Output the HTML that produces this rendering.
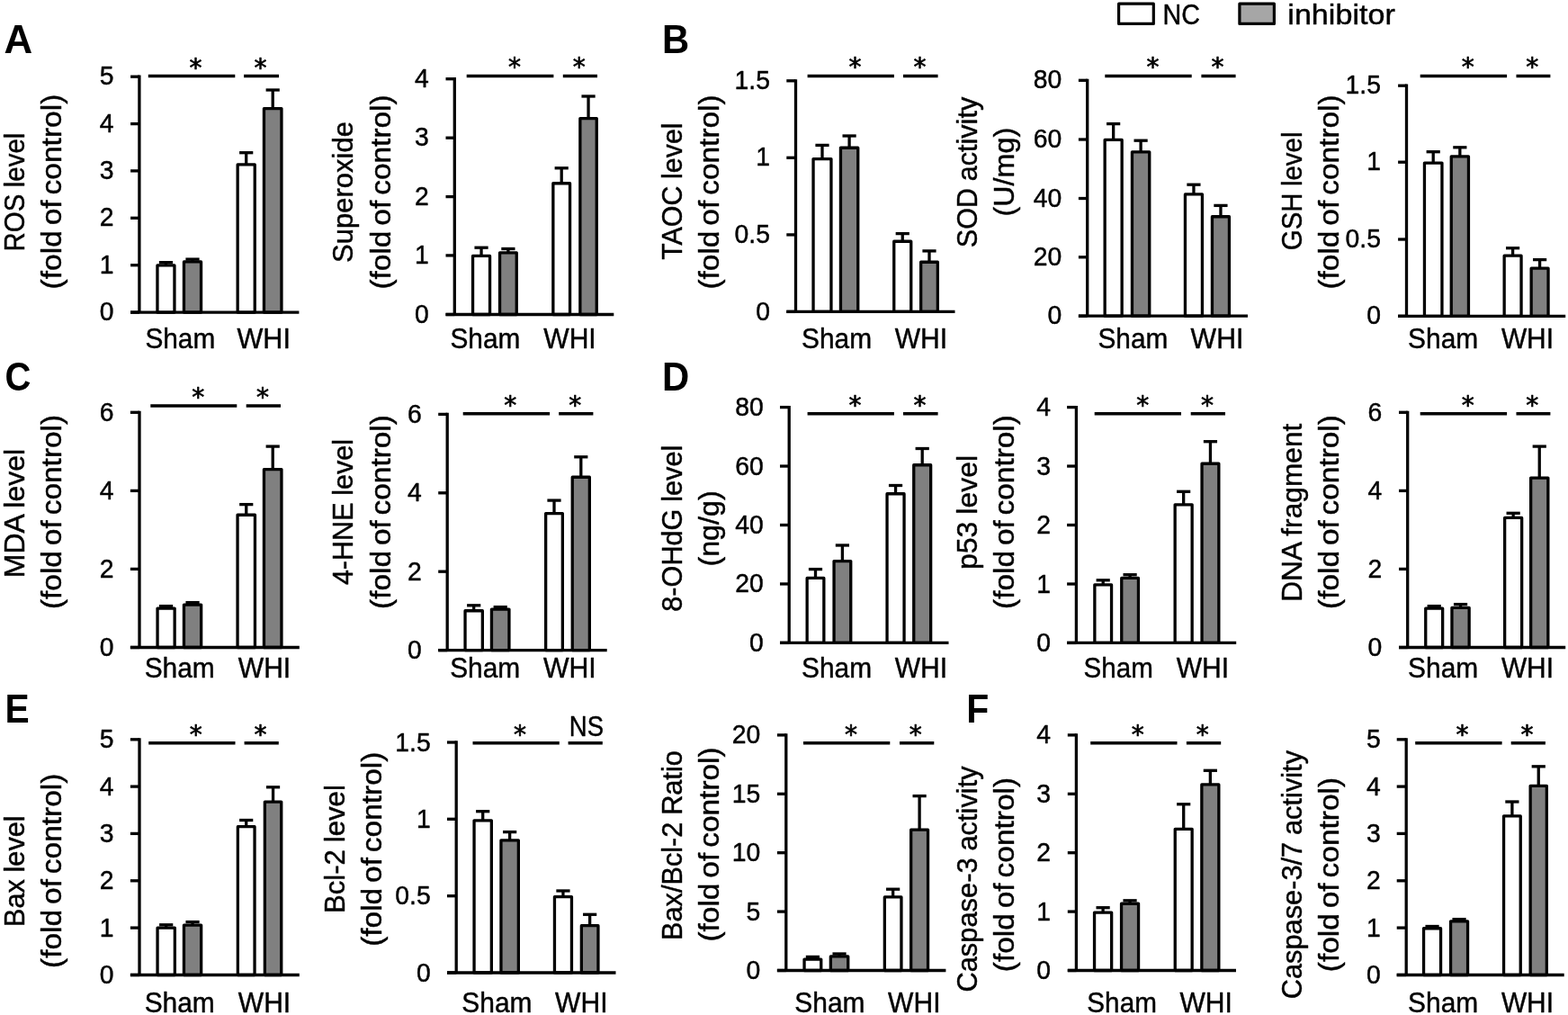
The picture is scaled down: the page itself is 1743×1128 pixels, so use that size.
<!DOCTYPE html>
<html lang="en"><head><meta charset="utf-8"><title>Figure</title>
<style>html,body{margin:0;padding:0;background:#fff}svg{display:block}text{font-family:"Liberation Sans",sans-serif;fill:#000;stroke:#000;stroke-width:.45px;stroke-linejoin:round}.b{stroke-width:0}.a{font-family:"DejaVu Sans",sans-serif;stroke-width:.7px}.c path,.c rect{stroke:#000;stroke-linecap:butt;stroke-linejoin:round}</style></head><body>
<svg width="1743" height="1128" viewBox="0 0 1743 1128">
<rect width="1743" height="1128" fill="#fff"/>
<g class="c">
<path d="M184.45 291.65L184.45 294.30" stroke-width="3.3"/>
<path d="M176.85 291.65L192.05 291.65" stroke-width="3.3"/>
<rect x="174.95" y="294.95" width="19.00" height="52.15" fill="#fff" stroke-width="3.3"/>
<path d="M214.00 288.10L214.00 290.30" stroke-width="3.3"/>
<path d="M206.40 288.10L221.60 288.10" stroke-width="3.3"/>
<rect x="204.45" y="290.95" width="19.10" height="56.15" fill="#808080" stroke-width="3.3"/>
<path d="M273.70 169.70L273.70 182.30" stroke-width="3.3"/>
<path d="M266.10 169.70L281.30 169.70" stroke-width="3.3"/>
<rect x="264.15" y="182.95" width="19.10" height="164.15" fill="#fff" stroke-width="3.3"/>
<path d="M303.20 100.00L303.20 119.90" stroke-width="3.3"/>
<path d="M295.60 100.00L310.80 100.00" stroke-width="3.3"/>
<rect x="293.45" y="120.55" width="19.50" height="226.55" fill="#808080" stroke-width="3.3"/>
<path d="M154.90 83.55L154.90 347.10" stroke-width="3.3"/>
<path d="M145.10 347.10L332.40 347.10" stroke-width="3.3"/>
<path d="M145.10 347.10L154.90 347.10" stroke-width="3.3"/>
<path d="M145.10 294.70L154.90 294.70" stroke-width="3.3"/>
<path d="M145.10 242.30L154.90 242.30" stroke-width="3.3"/>
<path d="M145.10 189.90L154.90 189.90" stroke-width="3.3"/>
<path d="M145.10 137.60L154.90 137.60" stroke-width="3.3"/>
<path d="M145.10 85.20L154.90 85.20" stroke-width="3.3"/>
<path d="M164.80 84.50L261.30 84.50" stroke-width="3.5"/>
<path d="M271.10 84.50L310.00 84.50" stroke-width="3.5"/>
</g>
<text transform="translate(126.40,356.20) scale(0.98,1)" font-size="28.9" text-anchor="end">0</text>
<text transform="translate(126.40,303.80) scale(0.98,1)" font-size="28.9" text-anchor="end">1</text>
<text transform="translate(126.40,251.40) scale(0.98,1)" font-size="28.9" text-anchor="end">2</text>
<text transform="translate(126.40,199.00) scale(0.98,1)" font-size="28.9" text-anchor="end">3</text>
<text transform="translate(126.40,146.70) scale(0.98,1)" font-size="28.9" text-anchor="end">4</text>
<text transform="translate(126.40,94.30) scale(0.98,1)" font-size="28.9" text-anchor="end">5</text>
<text x="217.50" y="84.50" class="a" font-size="28" text-anchor="middle">*</text>
<text x="289.40" y="84.50" class="a" font-size="28" text-anchor="middle">*</text>
<text transform="translate(161.39,386.90) scale(0.9398,1)" font-size="31.7">Sham</text>
<text transform="translate(263.48,386.90) scale(0.9655,1)" font-size="31.7">WHI</text>
<text transform="translate(27.00,279.44) rotate(-90) scale(0.9292,1)" font-size="31.7" word-spacing="-0.8">ROS level</text>
<text transform="translate(68.00,321.41) rotate(-90) scale(1.0574,1)" font-size="31.7" word-spacing="-3.2">(fold of control)</text>
<g class="c">
<path d="M535.05 275.20L535.05 283.80" stroke-width="3.3"/>
<path d="M527.45 275.20L542.65 275.20" stroke-width="3.3"/>
<rect x="525.55" y="284.45" width="19.00" height="65.05" fill="#fff" stroke-width="3.3"/>
<path d="M564.90 276.50L564.90 280.20" stroke-width="3.3"/>
<path d="M557.30 276.50L572.50 276.50" stroke-width="3.3"/>
<rect x="555.55" y="280.85" width="18.70" height="68.65" fill="#808080" stroke-width="3.3"/>
<path d="M624.20 186.80L624.20 203.10" stroke-width="3.3"/>
<path d="M616.60 186.80L631.80 186.80" stroke-width="3.3"/>
<rect x="614.85" y="203.75" width="18.70" height="145.75" fill="#fff" stroke-width="3.3"/>
<path d="M654.05 107.00L654.05 130.90" stroke-width="3.3"/>
<path d="M646.45 107.00L661.65 107.00" stroke-width="3.3"/>
<rect x="644.85" y="131.55" width="18.40" height="217.95" fill="#808080" stroke-width="3.3"/>
<path d="M505.30 86.05L505.30 349.50" stroke-width="3.3"/>
<path d="M495.50 349.50L682.30 349.50" stroke-width="3.3"/>
<path d="M495.50 349.50L505.30 349.50" stroke-width="3.3"/>
<path d="M495.50 283.90L505.30 283.90" stroke-width="3.3"/>
<path d="M495.50 218.60L505.30 218.60" stroke-width="3.3"/>
<path d="M495.50 153.20L505.30 153.20" stroke-width="3.3"/>
<path d="M495.50 87.70L505.30 87.70" stroke-width="3.3"/>
<path d="M518.70 84.40L615.40 84.40" stroke-width="3.5"/>
<path d="M625.80 84.40L664.00 84.40" stroke-width="3.5"/>
</g>
<text transform="translate(476.80,358.60) scale(0.98,1)" font-size="28.9" text-anchor="end">0</text>
<text transform="translate(476.80,293.00) scale(0.98,1)" font-size="28.9" text-anchor="end">1</text>
<text transform="translate(476.80,227.70) scale(0.98,1)" font-size="28.9" text-anchor="end">2</text>
<text transform="translate(476.80,162.30) scale(0.98,1)" font-size="28.9" text-anchor="end">3</text>
<text transform="translate(476.80,96.80) scale(0.98,1)" font-size="28.9" text-anchor="end">4</text>
<text x="571.90" y="84.40" class="a" font-size="28" text-anchor="middle">*</text>
<text x="643.80" y="84.40" class="a" font-size="28" text-anchor="middle">*</text>
<text transform="translate(500.49,386.90) scale(0.9398,1)" font-size="31.7">Sham</text>
<text transform="translate(604.28,386.90) scale(0.9484,1)" font-size="31.7">WHI</text>
<text transform="translate(392.40,291.97) rotate(-90) scale(0.9794,1)" font-size="31.7">Superoxide</text>
<text transform="translate(433.70,321.61) rotate(-90) scale(1.0554,1)" font-size="31.7" word-spacing="-3.2">(fold of control)</text>
<g class="c">
<path d="M914.00 161.40L914.00 175.90" stroke-width="3.3"/>
<path d="M906.40 161.40L921.60 161.40" stroke-width="3.3"/>
<rect x="904.05" y="176.55" width="19.90" height="169.85" fill="#fff" stroke-width="3.3"/>
<path d="M944.10 151.00L944.10 163.60" stroke-width="3.3"/>
<path d="M936.50 151.00L951.70 151.00" stroke-width="3.3"/>
<rect x="934.45" y="164.25" width="19.30" height="182.15" fill="#808080" stroke-width="3.3"/>
<path d="M1003.25 259.60L1003.25 267.60" stroke-width="3.3"/>
<path d="M995.65 259.60L1010.85 259.60" stroke-width="3.3"/>
<rect x="993.75" y="268.25" width="19.00" height="78.15" fill="#fff" stroke-width="3.3"/>
<path d="M1033.00 278.90L1033.00 290.60" stroke-width="3.3"/>
<path d="M1025.40 278.90L1040.60 278.90" stroke-width="3.3"/>
<rect x="1023.65" y="291.25" width="18.70" height="55.15" fill="#808080" stroke-width="3.3"/>
<path d="M884.50 88.15L884.50 346.40" stroke-width="3.3"/>
<path d="M874.30 346.40L1061.50 346.40" stroke-width="3.3"/>
<path d="M874.30 346.40L884.50 346.40" stroke-width="3.3"/>
<path d="M874.30 260.90L884.50 260.90" stroke-width="3.3"/>
<path d="M874.30 175.30L884.50 175.30" stroke-width="3.3"/>
<path d="M874.30 89.80L884.50 89.80" stroke-width="3.3"/>
<path d="M897.60 84.40L993.90 84.40" stroke-width="3.5"/>
<path d="M1004.00 84.40L1042.60 84.40" stroke-width="3.5"/>
</g>
<text transform="translate(856.00,355.50) scale(0.98,1)" font-size="28.9" text-anchor="end">0</text>
<text transform="translate(856.00,270.00) scale(0.98,1)" font-size="28.9" text-anchor="end">0.5</text>
<text transform="translate(856.00,184.40) scale(0.98,1)" font-size="28.9" text-anchor="end">1</text>
<text transform="translate(856.00,98.90) scale(0.98,1)" font-size="28.9" text-anchor="end">1.5</text>
<text x="950.50" y="84.40" class="a" font-size="28" text-anchor="middle">*</text>
<text x="1022.40" y="84.40" class="a" font-size="28" text-anchor="middle">*</text>
<text transform="translate(890.98,386.90) scale(0.9436,1)" font-size="31.7">Sham</text>
<text transform="translate(994.68,386.90) scale(0.9501,1)" font-size="31.7">WHI</text>
<text transform="translate(757.80,288.72) rotate(-90) scale(0.9590,1)" font-size="31.7" word-spacing="-0.8">TAOC level</text>
<text transform="translate(799.10,321.61) rotate(-90) scale(1.0554,1)" font-size="31.7" word-spacing="-3.2">(fold of control)</text>
<g class="c">
<path d="M1237.65 137.60L1237.65 154.80" stroke-width="3.3"/>
<path d="M1230.05 137.60L1245.25 137.60" stroke-width="3.3"/>
<rect x="1228.15" y="155.45" width="19.00" height="195.75" fill="#fff" stroke-width="3.3"/>
<path d="M1268.10 156.20L1268.10 168.20" stroke-width="3.3"/>
<path d="M1260.50 156.20L1275.70 156.20" stroke-width="3.3"/>
<rect x="1258.45" y="168.85" width="19.30" height="182.35" fill="#808080" stroke-width="3.3"/>
<path d="M1326.95 205.20L1326.95 215.30" stroke-width="3.3"/>
<path d="M1319.35 205.20L1334.55 205.20" stroke-width="3.3"/>
<rect x="1317.45" y="215.95" width="19.00" height="135.25" fill="#fff" stroke-width="3.3"/>
<path d="M1356.95 228.40L1356.95 240.10" stroke-width="3.3"/>
<path d="M1349.35 228.40L1364.55 228.40" stroke-width="3.3"/>
<rect x="1347.45" y="240.75" width="19.00" height="110.45" fill="#808080" stroke-width="3.3"/>
<path d="M1208.70 87.65L1208.70 351.20" stroke-width="3.3"/>
<path d="M1198.90 351.20L1387.00 351.20" stroke-width="3.3"/>
<path d="M1198.90 351.20L1208.70 351.20" stroke-width="3.3"/>
<path d="M1198.90 285.80L1208.70 285.80" stroke-width="3.3"/>
<path d="M1198.90 220.50L1208.70 220.50" stroke-width="3.3"/>
<path d="M1198.90 155.00L1208.70 155.00" stroke-width="3.3"/>
<path d="M1198.90 89.30L1208.70 89.30" stroke-width="3.3"/>
<path d="M1228.30 84.40L1324.70 84.40" stroke-width="3.5"/>
<path d="M1335.40 84.40L1373.60 84.40" stroke-width="3.5"/>
</g>
<text transform="translate(1180.20,360.30) scale(0.98,1)" font-size="28.9" text-anchor="end">0</text>
<text transform="translate(1180.20,294.90) scale(0.98,1)" font-size="28.9" text-anchor="end">20</text>
<text transform="translate(1180.20,229.60) scale(0.98,1)" font-size="28.9" text-anchor="end">40</text>
<text transform="translate(1180.20,164.10) scale(0.98,1)" font-size="28.9" text-anchor="end">60</text>
<text transform="translate(1180.20,98.40) scale(0.98,1)" font-size="28.9" text-anchor="end">80</text>
<text x="1281.50" y="84.40" class="a" font-size="28" text-anchor="middle">*</text>
<text x="1353.40" y="84.40" class="a" font-size="28" text-anchor="middle">*</text>
<text transform="translate(1220.49,386.90) scale(0.9398,1)" font-size="31.7">Sham</text>
<text transform="translate(1323.58,386.90) scale(0.9552,1)" font-size="31.7">WHI</text>
<text transform="translate(1086.00,275.15) rotate(-90) scale(0.9646,1)" font-size="31.7" word-spacing="-0.8">SOD activity</text>
<text transform="translate(1126.80,240.54) rotate(-90) scale(1.0194,1)" font-size="31.7">(U/mg)</text>
<g class="c">
<path d="M1593.20 168.70L1593.20 180.40" stroke-width="3.3"/>
<path d="M1585.60 168.70L1600.80 168.70" stroke-width="3.3"/>
<rect x="1583.45" y="181.05" width="19.50" height="170.25" fill="#fff" stroke-width="3.3"/>
<path d="M1622.85 163.80L1622.85 173.30" stroke-width="3.3"/>
<path d="M1615.25 163.80L1630.45 163.80" stroke-width="3.3"/>
<rect x="1613.25" y="173.95" width="19.20" height="177.35" fill="#808080" stroke-width="3.3"/>
<path d="M1681.60 275.70L1681.60 283.50" stroke-width="3.3"/>
<path d="M1674.00 275.70L1689.20 275.70" stroke-width="3.3"/>
<rect x="1672.15" y="284.15" width="18.90" height="67.15" fill="#fff" stroke-width="3.3"/>
<path d="M1711.60 288.60L1711.60 297.50" stroke-width="3.3"/>
<path d="M1704.00 288.60L1719.20 288.60" stroke-width="3.3"/>
<rect x="1702.15" y="298.15" width="18.90" height="53.15" fill="#808080" stroke-width="3.3"/>
<path d="M1563.50 93.55L1563.50 351.30" stroke-width="3.3"/>
<path d="M1554.10 351.30L1740.20 351.30" stroke-width="3.3"/>
<path d="M1554.10 351.30L1563.50 351.30" stroke-width="3.3"/>
<path d="M1554.10 266.00L1563.50 266.00" stroke-width="3.3"/>
<path d="M1554.10 180.20L1563.50 180.20" stroke-width="3.3"/>
<path d="M1554.10 95.20L1563.50 95.20" stroke-width="3.3"/>
<path d="M1578.70 84.40L1675.10 84.40" stroke-width="3.5"/>
<path d="M1685.50 84.40L1723.40 84.40" stroke-width="3.5"/>
</g>
<text transform="translate(1535.00,360.40) scale(0.98,1)" font-size="28.9" text-anchor="end">0</text>
<text transform="translate(1535.00,275.10) scale(0.98,1)" font-size="28.9" text-anchor="end">0.5</text>
<text transform="translate(1535.00,189.30) scale(0.98,1)" font-size="28.9" text-anchor="end">1</text>
<text transform="translate(1535.00,104.30) scale(0.98,1)" font-size="28.9" text-anchor="end">1.5</text>
<text x="1631.70" y="84.40" class="a" font-size="28" text-anchor="middle">*</text>
<text x="1703.20" y="84.40" class="a" font-size="28" text-anchor="middle">*</text>
<text transform="translate(1565.08,386.90) scale(0.9436,1)" font-size="31.7">Sham</text>
<text transform="translate(1668.88,386.90) scale(0.9433,1)" font-size="31.7">WHI</text>
<text transform="translate(1446.60,278.21) rotate(-90) scale(0.9282,1)" font-size="31.7" word-spacing="-0.8">GSH level</text>
<text transform="translate(1487.90,321.61) rotate(-90) scale(1.0554,1)" font-size="31.7" word-spacing="-3.2">(fold of control)</text>
<g class="c">
<path d="M184.60 673.60L184.60 675.40" stroke-width="3.3"/>
<path d="M177.00 673.60L192.20 673.60" stroke-width="3.3"/>
<rect x="175.05" y="676.05" width="19.10" height="43.45" fill="#fff" stroke-width="3.3"/>
<path d="M214.05 669.60L214.05 671.40" stroke-width="3.3"/>
<path d="M206.45 669.60L221.65 669.60" stroke-width="3.3"/>
<rect x="204.45" y="672.05" width="19.20" height="47.45" fill="#808080" stroke-width="3.3"/>
<path d="M273.75 560.60L273.75 571.60" stroke-width="3.3"/>
<path d="M266.15 560.60L281.35 560.60" stroke-width="3.3"/>
<rect x="264.05" y="572.25" width="19.40" height="147.25" fill="#fff" stroke-width="3.3"/>
<path d="M303.20 496.10L303.20 520.90" stroke-width="3.3"/>
<path d="M295.60 496.10L310.80 496.10" stroke-width="3.3"/>
<rect x="293.45" y="521.55" width="19.50" height="197.95" fill="#808080" stroke-width="3.3"/>
<path d="M155.00 456.65L155.00 719.50" stroke-width="3.3"/>
<path d="M144.90 719.50L332.80 719.50" stroke-width="3.3"/>
<path d="M144.90 719.50L155.00 719.50" stroke-width="3.3"/>
<path d="M144.90 632.40L155.00 632.40" stroke-width="3.3"/>
<path d="M144.90 545.40L155.00 545.40" stroke-width="3.3"/>
<path d="M144.90 458.30L155.00 458.30" stroke-width="3.3"/>
<path d="M167.30 450.90L263.30 450.90" stroke-width="3.5"/>
<path d="M273.70 450.90L312.00 450.90" stroke-width="3.5"/>
</g>
<text transform="translate(126.50,729.00) scale(0.98,1)" font-size="28.9" text-anchor="end">0</text>
<text transform="translate(126.50,641.90) scale(0.98,1)" font-size="28.9" text-anchor="end">2</text>
<text transform="translate(126.50,554.90) scale(0.98,1)" font-size="28.9" text-anchor="end">4</text>
<text transform="translate(126.50,467.80) scale(0.98,1)" font-size="28.9" text-anchor="end">6</text>
<text x="220.20" y="450.90" class="a" font-size="28" text-anchor="middle">*</text>
<text x="292.10" y="450.90" class="a" font-size="28" text-anchor="middle">*</text>
<text transform="translate(160.68,752.60) scale(0.9436,1)" font-size="31.7">Sham</text>
<text transform="translate(264.78,752.60) scale(0.9484,1)" font-size="31.7">WHI</text>
<text transform="translate(26.80,642.15) rotate(-90) scale(1.0100,1)" font-size="31.7" word-spacing="-0.8">MDA level</text>
<text transform="translate(68.00,677.11) rotate(-90) scale(1.0554,1)" font-size="31.7" word-spacing="-3.2">(fold of control)</text>
<g class="c">
<path d="M526.70 672.80L526.70 678.10" stroke-width="3.3"/>
<path d="M519.10 672.80L534.30 672.80" stroke-width="3.3"/>
<rect x="517.05" y="678.75" width="19.30" height="43.85" fill="#fff" stroke-width="3.3"/>
<path d="M556.20 674.60L556.20 676.40" stroke-width="3.3"/>
<path d="M548.60 674.60L563.80 674.60" stroke-width="3.3"/>
<rect x="546.45" y="677.05" width="19.50" height="45.55" fill="#808080" stroke-width="3.3"/>
<path d="M616.00 556.10L616.00 569.90" stroke-width="3.3"/>
<path d="M608.40 556.10L623.60 556.10" stroke-width="3.3"/>
<rect x="606.65" y="570.55" width="18.70" height="152.05" fill="#fff" stroke-width="3.3"/>
<path d="M645.80 507.80L645.80 529.60" stroke-width="3.3"/>
<path d="M638.20 507.80L653.40 507.80" stroke-width="3.3"/>
<rect x="636.25" y="530.25" width="19.10" height="192.35" fill="#808080" stroke-width="3.3"/>
<path d="M497.20 458.75L497.20 722.60" stroke-width="3.3"/>
<path d="M487.20 722.60L674.70 722.60" stroke-width="3.3"/>
<path d="M487.20 722.60L497.20 722.60" stroke-width="3.3"/>
<path d="M487.20 635.20L497.20 635.20" stroke-width="3.3"/>
<path d="M487.20 547.80L497.20 547.80" stroke-width="3.3"/>
<path d="M487.20 460.40L497.20 460.40" stroke-width="3.3"/>
<path d="M514.70 459.80L611.10 459.80" stroke-width="3.5"/>
<path d="M621.20 459.80L659.40 459.80" stroke-width="3.5"/>
</g>
<text transform="translate(468.70,732.10) scale(0.98,1)" font-size="28.9" text-anchor="end">0</text>
<text transform="translate(468.70,644.70) scale(0.98,1)" font-size="28.9" text-anchor="end">2</text>
<text transform="translate(468.70,557.30) scale(0.98,1)" font-size="28.9" text-anchor="end">4</text>
<text transform="translate(468.70,469.90) scale(0.98,1)" font-size="28.9" text-anchor="end">6</text>
<text x="567.30" y="459.80" class="a" font-size="28" text-anchor="middle">*</text>
<text x="639.20" y="459.80" class="a" font-size="28" text-anchor="middle">*</text>
<text transform="translate(500.18,752.60) scale(0.9436,1)" font-size="31.7">Sham</text>
<text transform="translate(603.88,752.60) scale(0.9552,1)" font-size="31.7">WHI</text>
<text transform="translate(392.40,650.12) rotate(-90) scale(0.9638,1)" font-size="31.7" word-spacing="-0.8">4-HNE level</text>
<text transform="translate(433.70,676.91) rotate(-90) scale(1.0529,1)" font-size="31.7" word-spacing="-3.2">(fold of control)</text>
<g class="c">
<path d="M906.50 632.60L906.50 641.80" stroke-width="3.3"/>
<path d="M898.90 632.60L914.10 632.60" stroke-width="3.3"/>
<rect x="897.15" y="642.45" width="18.70" height="71.95" fill="#fff" stroke-width="3.3"/>
<path d="M936.40 606.00L936.40 622.90" stroke-width="3.3"/>
<path d="M928.80 606.00L944.00 606.00" stroke-width="3.3"/>
<rect x="927.05" y="623.55" width="18.70" height="90.85" fill="#808080" stroke-width="3.3"/>
<path d="M995.55 539.50L995.55 548.10" stroke-width="3.3"/>
<path d="M987.95 539.50L1003.15 539.50" stroke-width="3.3"/>
<rect x="986.05" y="548.75" width="19.00" height="165.65" fill="#fff" stroke-width="3.3"/>
<path d="M1025.20 498.50L1025.20 516.10" stroke-width="3.3"/>
<path d="M1017.60 498.50L1032.80 498.50" stroke-width="3.3"/>
<rect x="1015.75" y="516.75" width="18.90" height="197.65" fill="#808080" stroke-width="3.3"/>
<path d="M877.20 450.95L877.20 714.40" stroke-width="3.3"/>
<path d="M867.00 714.40L1054.50 714.40" stroke-width="3.3"/>
<path d="M867.00 714.40L877.20 714.40" stroke-width="3.3"/>
<path d="M867.00 648.95L877.20 648.95" stroke-width="3.3"/>
<path d="M867.00 583.50L877.20 583.50" stroke-width="3.3"/>
<path d="M867.00 518.05L877.20 518.05" stroke-width="3.3"/>
<path d="M867.00 452.60L877.20 452.60" stroke-width="3.3"/>
<path d="M897.60 459.80L993.90 459.80" stroke-width="3.5"/>
<path d="M1004.00 459.80L1042.60 459.80" stroke-width="3.5"/>
</g>
<text transform="translate(848.70,723.90) scale(0.98,1)" font-size="28.9" text-anchor="end">0</text>
<text transform="translate(848.70,658.45) scale(0.98,1)" font-size="28.9" text-anchor="end">20</text>
<text transform="translate(848.70,593.00) scale(0.98,1)" font-size="28.9" text-anchor="end">40</text>
<text transform="translate(848.70,527.55) scale(0.98,1)" font-size="28.9" text-anchor="end">60</text>
<text transform="translate(848.70,462.10) scale(0.98,1)" font-size="28.9" text-anchor="end">80</text>
<text x="950.50" y="459.80" class="a" font-size="28" text-anchor="middle">*</text>
<text x="1022.40" y="459.80" class="a" font-size="28" text-anchor="middle">*</text>
<text transform="translate(890.98,752.60) scale(0.9436,1)" font-size="31.7">Sham</text>
<text transform="translate(994.68,752.60) scale(0.9501,1)" font-size="31.7">WHI</text>
<text transform="translate(757.80,679.73) rotate(-90) scale(0.9678,1)" font-size="31.7" word-spacing="-0.8">8-OHdG level</text>
<text transform="translate(799.40,629.53) rotate(-90) scale(1.0165,1)" font-size="31.7">(ng/g)</text>
<g class="c">
<path d="M1226.20 644.80L1226.20 649.20" stroke-width="3.3"/>
<path d="M1218.60 644.80L1233.80 644.80" stroke-width="3.3"/>
<rect x="1216.85" y="649.85" width="18.70" height="64.60" fill="#fff" stroke-width="3.3"/>
<path d="M1256.10 638.70L1256.10 641.80" stroke-width="3.3"/>
<path d="M1248.50 638.70L1263.70 638.70" stroke-width="3.3"/>
<rect x="1246.75" y="642.45" width="18.70" height="72.00" fill="#808080" stroke-width="3.3"/>
<path d="M1315.65 546.30L1315.65 560.20" stroke-width="3.3"/>
<path d="M1308.05 546.30L1323.25 546.30" stroke-width="3.3"/>
<rect x="1306.15" y="560.85" width="19.00" height="153.60" fill="#fff" stroke-width="3.3"/>
<path d="M1345.45 490.70L1345.45 514.60" stroke-width="3.3"/>
<path d="M1337.85 490.70L1353.05 490.70" stroke-width="3.3"/>
<rect x="1336.05" y="515.25" width="18.80" height="199.20" fill="#808080" stroke-width="3.3"/>
<path d="M1196.40 450.95L1196.40 714.45" stroke-width="3.3"/>
<path d="M1186.10 714.45L1374.20 714.45" stroke-width="3.3"/>
<path d="M1186.10 714.45L1196.40 714.45" stroke-width="3.3"/>
<path d="M1186.10 649.00L1196.40 649.00" stroke-width="3.3"/>
<path d="M1186.10 583.50L1196.40 583.50" stroke-width="3.3"/>
<path d="M1186.10 518.05L1196.40 518.05" stroke-width="3.3"/>
<path d="M1186.10 452.60L1196.40 452.60" stroke-width="3.3"/>
<path d="M1216.70 459.80L1313.00 459.80" stroke-width="3.5"/>
<path d="M1323.70 459.80L1362.00 459.80" stroke-width="3.5"/>
</g>
<text transform="translate(1167.90,723.95) scale(0.98,1)" font-size="28.9" text-anchor="end">0</text>
<text transform="translate(1167.90,658.50) scale(0.98,1)" font-size="28.9" text-anchor="end">1</text>
<text transform="translate(1167.90,593.00) scale(0.98,1)" font-size="28.9" text-anchor="end">2</text>
<text transform="translate(1167.90,527.55) scale(0.98,1)" font-size="28.9" text-anchor="end">3</text>
<text transform="translate(1167.90,462.10) scale(0.98,1)" font-size="28.9" text-anchor="end">4</text>
<text x="1270.20" y="459.80" class="a" font-size="28" text-anchor="middle">*</text>
<text x="1342.10" y="459.80" class="a" font-size="28" text-anchor="middle">*</text>
<text transform="translate(1204.60,752.60) scale(0.9323,1)" font-size="31.7">Sham</text>
<text transform="translate(1307.68,752.60) scale(0.9501,1)" font-size="31.7">WHI</text>
<text transform="translate(1086.00,633.02) rotate(-90) scale(1.0076,1)" font-size="31.7" word-spacing="-0.8">p53 level</text>
<text transform="translate(1126.90,676.91) rotate(-90) scale(1.0529,1)" font-size="31.7" word-spacing="-3.2">(fold of control)</text>
<g class="c">
<path d="M1594.20 673.60L1594.20 675.40" stroke-width="3.3"/>
<path d="M1586.60 673.60L1601.80 673.60" stroke-width="3.3"/>
<rect x="1584.75" y="676.05" width="18.90" height="43.45" fill="#fff" stroke-width="3.3"/>
<path d="M1623.55 671.60L1623.55 674.70" stroke-width="3.3"/>
<path d="M1615.95 671.60L1631.15 671.60" stroke-width="3.3"/>
<rect x="1613.95" y="675.35" width="19.20" height="44.15" fill="#808080" stroke-width="3.3"/>
<path d="M1682.15 570.30L1682.15 574.80" stroke-width="3.3"/>
<path d="M1674.55 570.30L1689.75 570.30" stroke-width="3.3"/>
<rect x="1672.65" y="575.45" width="19.00" height="144.05" fill="#fff" stroke-width="3.3"/>
<path d="M1711.25 496.10L1711.25 530.40" stroke-width="3.3"/>
<path d="M1703.65 496.10L1718.85 496.10" stroke-width="3.3"/>
<rect x="1701.65" y="531.05" width="19.20" height="188.45" fill="#808080" stroke-width="3.3"/>
<path d="M1564.70 456.65L1564.70 719.50" stroke-width="3.3"/>
<path d="M1555.00 719.50L1740.20 719.50" stroke-width="3.3"/>
<path d="M1555.00 719.50L1564.70 719.50" stroke-width="3.3"/>
<path d="M1555.00 632.40L1564.70 632.40" stroke-width="3.3"/>
<path d="M1555.00 545.40L1564.70 545.40" stroke-width="3.3"/>
<path d="M1555.00 458.30L1564.70 458.30" stroke-width="3.3"/>
<path d="M1578.70 459.80L1675.10 459.80" stroke-width="3.5"/>
<path d="M1685.50 459.80L1723.40 459.80" stroke-width="3.5"/>
</g>
<text transform="translate(1536.20,729.00) scale(0.98,1)" font-size="28.9" text-anchor="end">0</text>
<text transform="translate(1536.20,641.90) scale(0.98,1)" font-size="28.9" text-anchor="end">2</text>
<text transform="translate(1536.20,554.90) scale(0.98,1)" font-size="28.9" text-anchor="end">4</text>
<text transform="translate(1536.20,467.80) scale(0.98,1)" font-size="28.9" text-anchor="end">6</text>
<text x="1631.70" y="459.80" class="a" font-size="28" text-anchor="middle">*</text>
<text x="1703.20" y="459.80" class="a" font-size="28" text-anchor="middle">*</text>
<text transform="translate(1565.08,752.60) scale(0.9436,1)" font-size="31.7">Sham</text>
<text transform="translate(1668.88,752.60) scale(0.9433,1)" font-size="31.7">WHI</text>
<text transform="translate(1446.60,668.82) rotate(-90) scale(0.9994,1)" font-size="31.7" word-spacing="-0.8">DNA fragment</text>
<text transform="translate(1487.90,676.91) rotate(-90) scale(1.0529,1)" font-size="31.7" word-spacing="-3.2">(fold of control)</text>
<g class="c">
<path d="M184.70 1027.80L184.70 1030.50" stroke-width="3.3"/>
<path d="M177.10 1027.80L192.30 1027.80" stroke-width="3.3"/>
<rect x="175.05" y="1031.15" width="19.30" height="52.35" fill="#fff" stroke-width="3.3"/>
<path d="M214.05 1024.60L214.05 1027.50" stroke-width="3.3"/>
<path d="M206.45 1024.60L221.65 1024.60" stroke-width="3.3"/>
<rect x="204.45" y="1028.15" width="19.20" height="55.35" fill="#808080" stroke-width="3.3"/>
<path d="M273.70 911.50L273.70 918.00" stroke-width="3.3"/>
<path d="M266.10 911.50L281.30 911.50" stroke-width="3.3"/>
<rect x="264.35" y="918.65" width="18.70" height="164.85" fill="#fff" stroke-width="3.3"/>
<path d="M303.55 874.80L303.55 890.40" stroke-width="3.3"/>
<path d="M295.95 874.80L311.15 874.80" stroke-width="3.3"/>
<rect x="294.35" y="891.05" width="18.40" height="192.45" fill="#808080" stroke-width="3.3"/>
<path d="M155.00 820.15L155.00 1083.50" stroke-width="3.3"/>
<path d="M144.90 1083.50L332.80 1083.50" stroke-width="3.3"/>
<path d="M144.90 1083.50L155.00 1083.50" stroke-width="3.3"/>
<path d="M144.90 1031.10L155.00 1031.10" stroke-width="3.3"/>
<path d="M144.90 978.80L155.00 978.80" stroke-width="3.3"/>
<path d="M144.90 926.40L155.00 926.40" stroke-width="3.3"/>
<path d="M144.90 874.10L155.00 874.10" stroke-width="3.3"/>
<path d="M144.90 821.80L155.00 821.80" stroke-width="3.3"/>
<path d="M165.20 825.70L261.50 825.70" stroke-width="3.5"/>
<path d="M271.60 825.70L309.80 825.70" stroke-width="3.5"/>
</g>
<text transform="translate(126.50,1093.00) scale(0.98,1)" font-size="28.9" text-anchor="end">0</text>
<text transform="translate(126.50,1040.60) scale(0.98,1)" font-size="28.9" text-anchor="end">1</text>
<text transform="translate(126.50,988.30) scale(0.98,1)" font-size="28.9" text-anchor="end">2</text>
<text transform="translate(126.50,935.90) scale(0.98,1)" font-size="28.9" text-anchor="end">3</text>
<text transform="translate(126.50,883.60) scale(0.98,1)" font-size="28.9" text-anchor="end">4</text>
<text transform="translate(126.50,831.30) scale(0.98,1)" font-size="28.9" text-anchor="end">5</text>
<text x="217.80" y="825.70" class="a" font-size="28" text-anchor="middle">*</text>
<text x="289.60" y="825.70" class="a" font-size="28" text-anchor="middle">*</text>
<text transform="translate(160.68,1124.90) scale(0.9436,1)" font-size="31.7">Sham</text>
<text transform="translate(264.78,1124.90) scale(0.9484,1)" font-size="31.7">WHI</text>
<text transform="translate(26.80,1030.04) rotate(-90) scale(0.9675,1)" font-size="31.7" word-spacing="-0.8">Bax level</text>
<text transform="translate(68.00,1075.91) rotate(-90) scale(1.0554,1)" font-size="31.7" word-spacing="-3.2">(fold of control)</text>
<g class="c">
<path d="M536.70 901.70L536.70 911.20" stroke-width="3.3"/>
<path d="M529.10 901.70L544.30 901.70" stroke-width="3.3"/>
<rect x="527.05" y="911.85" width="19.30" height="169.15" fill="#fff" stroke-width="3.3"/>
<path d="M566.65 924.60L566.65 933.20" stroke-width="3.3"/>
<path d="M559.05 924.60L574.25 924.60" stroke-width="3.3"/>
<rect x="556.95" y="933.85" width="19.40" height="147.15" fill="#808080" stroke-width="3.3"/>
<path d="M625.95 990.00L625.95 995.90" stroke-width="3.3"/>
<path d="M618.35 990.00L633.55 990.00" stroke-width="3.3"/>
<rect x="616.45" y="996.55" width="19.00" height="84.45" fill="#fff" stroke-width="3.3"/>
<path d="M655.65 1016.30L655.65 1028.00" stroke-width="3.3"/>
<path d="M648.05 1016.30L663.25 1016.30" stroke-width="3.3"/>
<rect x="646.35" y="1028.65" width="18.60" height="52.35" fill="#808080" stroke-width="3.3"/>
<path d="M507.20 823.35L507.20 1081.00" stroke-width="3.3"/>
<path d="M497.00 1081.00L684.50 1081.00" stroke-width="3.3"/>
<path d="M497.00 1081.00L507.20 1081.00" stroke-width="3.3"/>
<path d="M497.00 995.70L507.20 995.70" stroke-width="3.3"/>
<path d="M497.00 910.30L507.20 910.30" stroke-width="3.3"/>
<path d="M497.00 825.00L507.20 825.00" stroke-width="3.3"/>
<path d="M525.50 825.70L621.80 825.70" stroke-width="3.5"/>
<path d="M631.60 825.70L669.80 825.70" stroke-width="3.5"/>
</g>
<text transform="translate(478.70,1090.50) scale(0.98,1)" font-size="28.9" text-anchor="end">0</text>
<text transform="translate(478.70,1005.20) scale(0.98,1)" font-size="28.9" text-anchor="end">0.5</text>
<text transform="translate(478.70,919.80) scale(0.98,1)" font-size="28.9" text-anchor="end">1</text>
<text transform="translate(478.70,834.50) scale(0.98,1)" font-size="28.9" text-anchor="end">1.5</text>
<text x="578.10" y="825.70" class="a" font-size="28" text-anchor="middle">*</text>
<text transform="translate(632.82,818.40) scale(0.8675,1)" font-size="31.7">NS</text>
<text transform="translate(513.28,1124.90) scale(0.9449,1)" font-size="31.7">Sham</text>
<text transform="translate(617.08,1124.90) scale(0.9501,1)" font-size="31.7">WHI</text>
<text transform="translate(382.60,1014.98) rotate(-90) scale(0.9821,1)" font-size="31.7" word-spacing="-0.8">Bcl-2 level</text>
<text transform="translate(423.90,1051.81) rotate(-90) scale(1.0544,1)" font-size="31.7" word-spacing="-3.2">(fold of control)</text>
<g class="c">
<path d="M903.40 1063.40L903.40 1065.40" stroke-width="3.3"/>
<path d="M895.80 1063.40L911.00 1063.40" stroke-width="3.3"/>
<rect x="894.05" y="1066.05" width="18.70" height="12.45" fill="#fff" stroke-width="3.3"/>
<path d="M933.05 1060.00L933.05 1062.30" stroke-width="3.3"/>
<path d="M925.45 1060.00L940.65 1060.00" stroke-width="3.3"/>
<rect x="923.35" y="1062.95" width="19.40" height="15.55" fill="#808080" stroke-width="3.3"/>
<path d="M992.65 988.20L992.65 996.30" stroke-width="3.3"/>
<path d="M985.05 988.20L1000.25 988.20" stroke-width="3.3"/>
<rect x="983.35" y="996.95" width="18.60" height="81.55" fill="#fff" stroke-width="3.3"/>
<path d="M1022.10 884.60L1022.10 921.55" stroke-width="3.3"/>
<path d="M1014.50 884.60L1029.70 884.60" stroke-width="3.3"/>
<rect x="1012.65" y="922.20" width="18.90" height="156.30" fill="#808080" stroke-width="3.3"/>
<path d="M873.80 815.25L873.80 1078.50" stroke-width="3.3"/>
<path d="M863.90 1078.50L1051.40 1078.50" stroke-width="3.3"/>
<path d="M863.90 1078.50L873.80 1078.50" stroke-width="3.3"/>
<path d="M863.90 1013.10L873.80 1013.10" stroke-width="3.3"/>
<path d="M863.90 947.70L873.80 947.70" stroke-width="3.3"/>
<path d="M863.90 882.30L873.80 882.30" stroke-width="3.3"/>
<path d="M863.90 816.90L873.80 816.90" stroke-width="3.3"/>
<path d="M893.00 825.70L989.30 825.70" stroke-width="3.5"/>
<path d="M1000.00 825.70L1038.30 825.70" stroke-width="3.5"/>
</g>
<text transform="translate(845.30,1088.00) scale(0.98,1)" font-size="28.9" text-anchor="end">0</text>
<text transform="translate(845.30,1022.60) scale(0.98,1)" font-size="28.9" text-anchor="end">5</text>
<text transform="translate(845.30,957.20) scale(0.98,1)" font-size="28.9" text-anchor="end">10</text>
<text transform="translate(845.30,891.80) scale(0.98,1)" font-size="28.9" text-anchor="end">15</text>
<text transform="translate(845.30,826.40) scale(0.98,1)" font-size="28.9" text-anchor="end">20</text>
<text x="945.90" y="825.70" class="a" font-size="28" text-anchor="middle">*</text>
<text x="1017.80" y="825.70" class="a" font-size="28" text-anchor="middle">*</text>
<text transform="translate(883.28,1124.90) scale(0.9449,1)" font-size="31.7">Sham</text>
<text transform="translate(987.08,1124.90) scale(0.9501,1)" font-size="31.7">WHI</text>
<text transform="translate(758.20,1044.94) rotate(-90) scale(0.9688,1)" font-size="31.7" word-spacing="-0.8">Bax/Bcl-2 Ratio</text>
<text transform="translate(799.30,1046.61) rotate(-90) scale(1.0554,1)" font-size="31.7" word-spacing="-3.2">(fold of control)</text>
<g class="c">
<path d="M1226.10 1008.70L1226.10 1013.40" stroke-width="3.3"/>
<path d="M1218.50 1008.70L1233.70 1008.70" stroke-width="3.3"/>
<rect x="1216.55" y="1014.05" width="19.10" height="64.45" fill="#fff" stroke-width="3.3"/>
<path d="M1256.05 1000.80L1256.05 1003.60" stroke-width="3.3"/>
<path d="M1248.45 1000.80L1263.65 1000.80" stroke-width="3.3"/>
<rect x="1246.55" y="1004.25" width="19.00" height="74.25" fill="#808080" stroke-width="3.3"/>
<path d="M1315.70 893.75L1315.70 920.65" stroke-width="3.3"/>
<path d="M1308.10 893.75L1323.30 893.75" stroke-width="3.3"/>
<rect x="1306.25" y="921.30" width="18.90" height="157.20" fill="#fff" stroke-width="3.3"/>
<path d="M1345.35 856.30L1345.35 871.30" stroke-width="3.3"/>
<path d="M1337.75 856.30L1352.95 856.30" stroke-width="3.3"/>
<rect x="1335.85" y="871.95" width="19.00" height="206.55" fill="#808080" stroke-width="3.3"/>
<path d="M1196.40 815.25L1196.40 1078.50" stroke-width="3.3"/>
<path d="M1186.80 1078.50L1374.00 1078.50" stroke-width="3.3"/>
<path d="M1186.80 1078.50L1196.40 1078.50" stroke-width="3.3"/>
<path d="M1186.80 1013.10L1196.40 1013.10" stroke-width="3.3"/>
<path d="M1186.80 947.70L1196.40 947.70" stroke-width="3.3"/>
<path d="M1186.80 882.30L1196.40 882.30" stroke-width="3.3"/>
<path d="M1186.80 816.90L1196.40 816.90" stroke-width="3.3"/>
<path d="M1212.20 825.70L1308.50 825.70" stroke-width="3.5"/>
<path d="M1318.90 825.70L1357.20 825.70" stroke-width="3.5"/>
</g>
<text transform="translate(1167.90,1088.00) scale(0.98,1)" font-size="28.9" text-anchor="end">0</text>
<text transform="translate(1167.90,1022.60) scale(0.98,1)" font-size="28.9" text-anchor="end">1</text>
<text transform="translate(1167.90,957.20) scale(0.98,1)" font-size="28.9" text-anchor="end">2</text>
<text transform="translate(1167.90,891.80) scale(0.98,1)" font-size="28.9" text-anchor="end">3</text>
<text transform="translate(1167.90,826.40) scale(0.98,1)" font-size="28.9" text-anchor="end">4</text>
<text x="1264.80" y="825.70" class="a" font-size="28" text-anchor="middle">*</text>
<text x="1336.70" y="825.70" class="a" font-size="28" text-anchor="middle">*</text>
<text transform="translate(1208.29,1124.90) scale(0.9373,1)" font-size="31.7">Sham</text>
<text transform="translate(1311.48,1124.90) scale(0.9484,1)" font-size="31.7">WHI</text>
<text transform="translate(1085.90,1102.58) rotate(-90) scale(0.9738,1)" font-size="31.7" word-spacing="-0.8">Caspase-3 activity</text>
<text transform="translate(1126.60,1080.21) rotate(-90) scale(1.0554,1)" font-size="31.7" word-spacing="-3.2">(fold of control)</text>
<g class="c">
<path d="M1592.05 1029.50L1592.05 1031.10" stroke-width="3.3"/>
<path d="M1584.45 1029.50L1599.65 1029.50" stroke-width="3.3"/>
<rect x="1582.55" y="1031.75" width="19.00" height="51.75" fill="#fff" stroke-width="3.3"/>
<path d="M1622.05 1021.60L1622.05 1023.20" stroke-width="3.3"/>
<path d="M1614.45 1021.60L1629.65 1021.60" stroke-width="3.3"/>
<rect x="1612.55" y="1023.85" width="19.00" height="59.65" fill="#808080" stroke-width="3.3"/>
<path d="M1680.90 891.00L1680.90 906.30" stroke-width="3.3"/>
<path d="M1673.30 891.00L1688.50 891.00" stroke-width="3.3"/>
<rect x="1671.55" y="906.95" width="18.70" height="176.55" fill="#fff" stroke-width="3.3"/>
<path d="M1710.25 851.80L1710.25 872.70" stroke-width="3.3"/>
<path d="M1702.65 851.80L1717.85 851.80" stroke-width="3.3"/>
<rect x="1701.15" y="873.35" width="18.20" height="210.15" fill="#808080" stroke-width="3.3"/>
<path d="M1563.20 820.15L1563.20 1083.50" stroke-width="3.3"/>
<path d="M1552.70 1083.50L1738.70 1083.50" stroke-width="3.3"/>
<path d="M1552.70 1083.50L1563.20 1083.50" stroke-width="3.3"/>
<path d="M1552.70 1031.10L1563.20 1031.10" stroke-width="3.3"/>
<path d="M1552.70 978.80L1563.20 978.80" stroke-width="3.3"/>
<path d="M1552.70 926.40L1563.20 926.40" stroke-width="3.3"/>
<path d="M1552.70 874.10L1563.20 874.10" stroke-width="3.3"/>
<path d="M1552.70 821.80L1563.20 821.80" stroke-width="3.3"/>
<path d="M1573.20 825.70L1669.60 825.70" stroke-width="3.5"/>
<path d="M1679.70 825.70L1717.90 825.70" stroke-width="3.5"/>
</g>
<text transform="translate(1534.70,1093.00) scale(0.98,1)" font-size="28.9" text-anchor="end">0</text>
<text transform="translate(1534.70,1040.60) scale(0.98,1)" font-size="28.9" text-anchor="end">1</text>
<text transform="translate(1534.70,988.30) scale(0.98,1)" font-size="28.9" text-anchor="end">2</text>
<text transform="translate(1534.70,935.90) scale(0.98,1)" font-size="28.9" text-anchor="end">3</text>
<text transform="translate(1534.70,883.60) scale(0.98,1)" font-size="28.9" text-anchor="end">4</text>
<text transform="translate(1534.70,831.30) scale(0.98,1)" font-size="28.9" text-anchor="end">5</text>
<text x="1625.50" y="825.70" class="a" font-size="28" text-anchor="middle">*</text>
<text x="1697.40" y="825.70" class="a" font-size="28" text-anchor="middle">*</text>
<text transform="translate(1565.08,1124.90) scale(0.9436,1)" font-size="31.7">Sham</text>
<text transform="translate(1668.88,1124.90) scale(0.9433,1)" font-size="31.7">WHI</text>
<text transform="translate(1446.60,1110.28) rotate(-90) scale(0.9713,1)" font-size="31.7" word-spacing="-0.8">Caspase-3/7 activity</text>
<text transform="translate(1487.90,1080.21) rotate(-90) scale(1.0554,1)" font-size="31.7" word-spacing="-3.2">(fold of control)</text>
<g class="c">
<rect x="1243.60" y="4.20" width="38.70" height="22.20" fill="#fff" stroke-width="3.2"/>
<rect x="1377.90" y="4.20" width="38.50" height="22.20" fill="#a6a6a6" stroke-width="3.2"/>
</g>
<text transform="translate(1292.52,26.60) scale(0.9051,1)" font-size="31.7">NC</text>
<text transform="translate(1431.31,26.60) scale(1.0765,1)" font-size="31.7">inhibitor</text>
<text transform="translate(4.47,59.30) scale(1.0051,1)" font-size="43.6" class="b" font-weight="bold">A</text>
<text transform="translate(735.95,59.10) scale(0.9577,1)" font-size="43.6" class="b" font-weight="bold">B</text>
<text transform="translate(5.39,433.90) scale(0.9193,1)" font-size="43.6" class="b" font-weight="bold">C</text>
<text transform="translate(735.94,434.20) scale(0.9607,1)" font-size="43.6" class="b" font-weight="bold">D</text>
<text transform="translate(5.51,802.60) scale(0.9347,1)" font-size="43.6" class="b" font-weight="bold">E</text>
<text transform="translate(1074.20,802.60) scale(0.9401,1)" font-size="43.6" class="b" font-weight="bold">F</text>
</svg></body></html>
